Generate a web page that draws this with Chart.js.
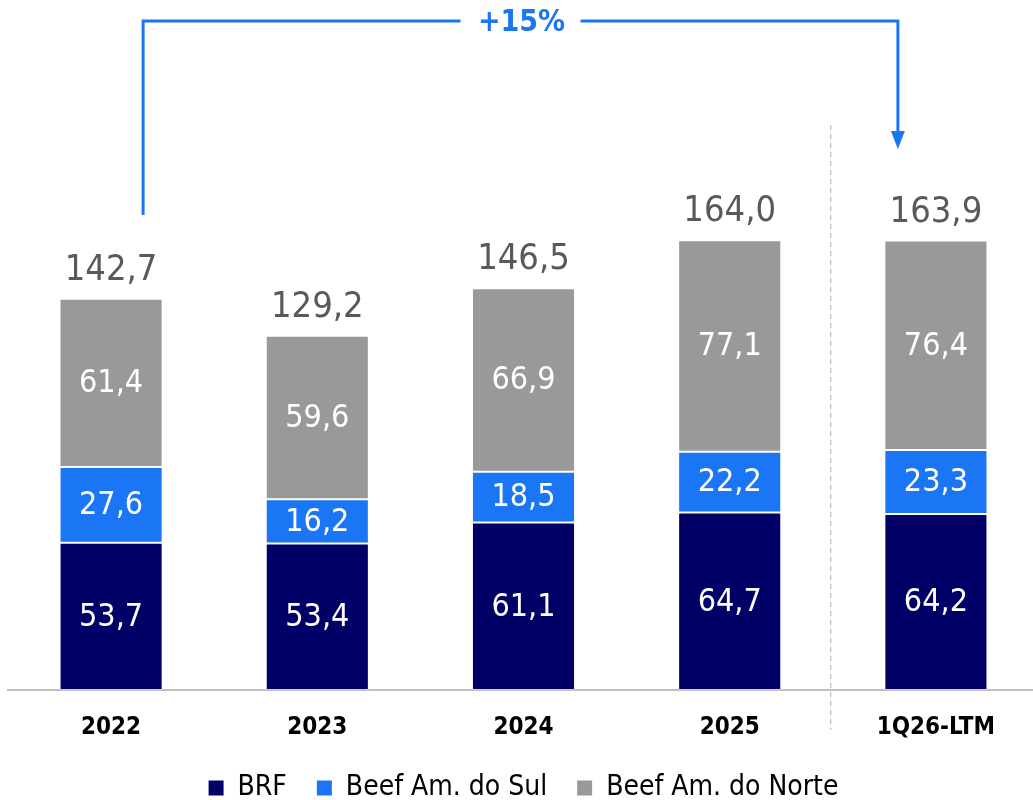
<!DOCTYPE html>
<html>
<head>
<meta charset="utf-8">
<script src="https://cdn.jsdelivr.net/npm/chart.js@4.4.1/dist/chart.umd.min.js"></script>
<style>
  html, body { margin: 0; padding: 0; background: #fff; overflow: hidden; }
  #wrap { position: relative; width: 1039px; height: 812px; }
</style>
</head>
<body>
<div id="wrap"><canvas id="chart"></canvas></div>
<script>
Chart.defaults.animation = false;

// ---- data ----
const categories = ["2022", "2023", "2024", "2025", "1Q26-LTM"];
const brf = [53.7, 53.4, 61.1, 64.7, 64.2];
const beefSul = [27.6, 16.2, 18.5, 22.2, 23.3];
const beefNorte = [61.4, 59.6, 66.9, 77.1, 76.4];
const growthLabel = "+15%";

const NAVY = "#000066";
const BLUE = "#1a76f4";
const GRAY = "#999999";
const LABEL_FONT = "'DejaVu Sans Condensed', 'DejaVu Sans', sans-serif";

const fmt = v => v.toFixed(1).replace(".", ",");

// value labels inside segments + totals on top
const labelsPlugin = {
  id: "valueLabels",
  afterDatasetsDraw(chart) {
    const ctx = chart.ctx;
    ctx.save();
    ctx.textAlign = "center";
    ctx.textBaseline = "middle";
    ctx.fillStyle = "#ffffff";
    ctx.font = "32px " + LABEL_FONT;
    chart.data.datasets.forEach((ds, i) => {
      chart.getDatasetMeta(i).data.forEach((bar, j) => {
        ctx.fillText(fmt(ds.data[j]), bar.x, (bar.y + bar.base) / 2 + 1);
      });
    });
    const top = chart.getDatasetMeta(chart.data.datasets.length - 1).data;
    ctx.fillStyle = "#595959";
    ctx.font = "36px " + LABEL_FONT;
    ctx.textBaseline = "alphabetic";
    top.forEach((bar, j) => {
      const total = brf[j] + beefSul[j] + beefNorte[j];
      ctx.fillText(fmt(total), bar.x, bar.y - 19);
    });
    ctx.restore();
  }
};

// dashed separator + growth bracket arrow
const annotPlugin = {
  id: "annot",
  afterDraw(chart) {
    const ctx = chart.ctx;
    const x = chart.scales.x;
    const sepX = (x.getPixelForValue(3) + x.getPixelForValue(4)) / 2 - 2;
    ctx.save();
    ctx.strokeStyle = "#b0b0b0";
    ctx.lineWidth = 1;
    ctx.setLineDash([5, 4]);
    ctx.beginPath();
    ctx.moveTo(sepX, 125);
    ctx.lineTo(sepX, 730);
    ctx.stroke();
    ctx.setLineDash([]);

    const x0 = x.getPixelForValue(0) + 32;
    const x1 = x.getPixelForValue(4) - 38;
    const yTop = 21;
    const midX = (x0 + x1) / 2;
    ctx.strokeStyle = BLUE;
    ctx.lineWidth = 3;
    ctx.beginPath();
    ctx.moveTo(x0, 215);
    ctx.lineTo(x0, yTop);
    ctx.lineTo(midX - 60, yTop);
    ctx.moveTo(midX + 60, yTop);
    ctx.lineTo(x1, yTop);
    ctx.lineTo(x1, 134);
    ctx.stroke();
    ctx.fillStyle = BLUE;
    ctx.beginPath();
    ctx.moveTo(x1 - 7, 131);
    ctx.lineTo(x1 + 7, 131);
    ctx.lineTo(x1, 149);
    ctx.closePath();
    ctx.fill();

    ctx.font = "bold 30px " + LABEL_FONT;
    ctx.textAlign = "center";
    ctx.textBaseline = "middle";
    ctx.fillText(growthLabel, midX + 1, yTop + 2);
    ctx.restore();
  }
};

new Chart(document.getElementById("chart"), {
  type: "bar",
  data: {
    labels: categories,
    datasets: [
      { label: "BRF", data: brf, backgroundColor: NAVY },
      { label: "Beef Am. do Sul", data: beefSul, backgroundColor: BLUE },
      { label: "Beef Am. do Norte", data: beefNorte, backgroundColor: GRAY }
    ]
  },
  options: {
    responsive: true,
    maintainAspectRatio: false,
    animation: false,
    layout: { padding: { top: 10, left: 8, right: 0, bottom: 0 } },
    datasets: {
      bar: {
        categoryPercentage: 1,
        barPercentage: 0.5,
        borderWidth: 1,
        borderColor: "rgba(255,255,255,0.25)",
        borderSkipped: false
      }
    },
    scales: {
      x: {
        stacked: true,
        grid: { display: false },
        border: { display: true, color: "#c0c0c0", width: 2 },
        ticks: {
          color: "#000000",
          font: { family: LABEL_FONT, size: 24, weight: "bold" },
          padding: 15
        },
        afterFit(scale) { scale.height = 78; }
      },
      y: {
        stacked: true,
        display: false,
        min: 0,
        max: 248
      }
    },
    plugins: {
      legend: {
        position: "bottom",
        labels: {
          boxWidth: 15,
          boxHeight: 15,
          padding: 6,
          color: "#000000",
          font: { family: LABEL_FONT, size: 28 },
          generateLabels(chart) {
            const items = Chart.defaults.plugins.legend.labels.generateLabels(chart);
            items.forEach((it, i) => {
              if (i < items.length - 1) it.text = it.text + "   ";
              it.lineWidth = 0;
            });
            return items;
          }
        }
      },
      tooltip: { enabled: false }
    }
  },
  plugins: [labelsPlugin, annotPlugin]
});
</script>
</body>
</html>
